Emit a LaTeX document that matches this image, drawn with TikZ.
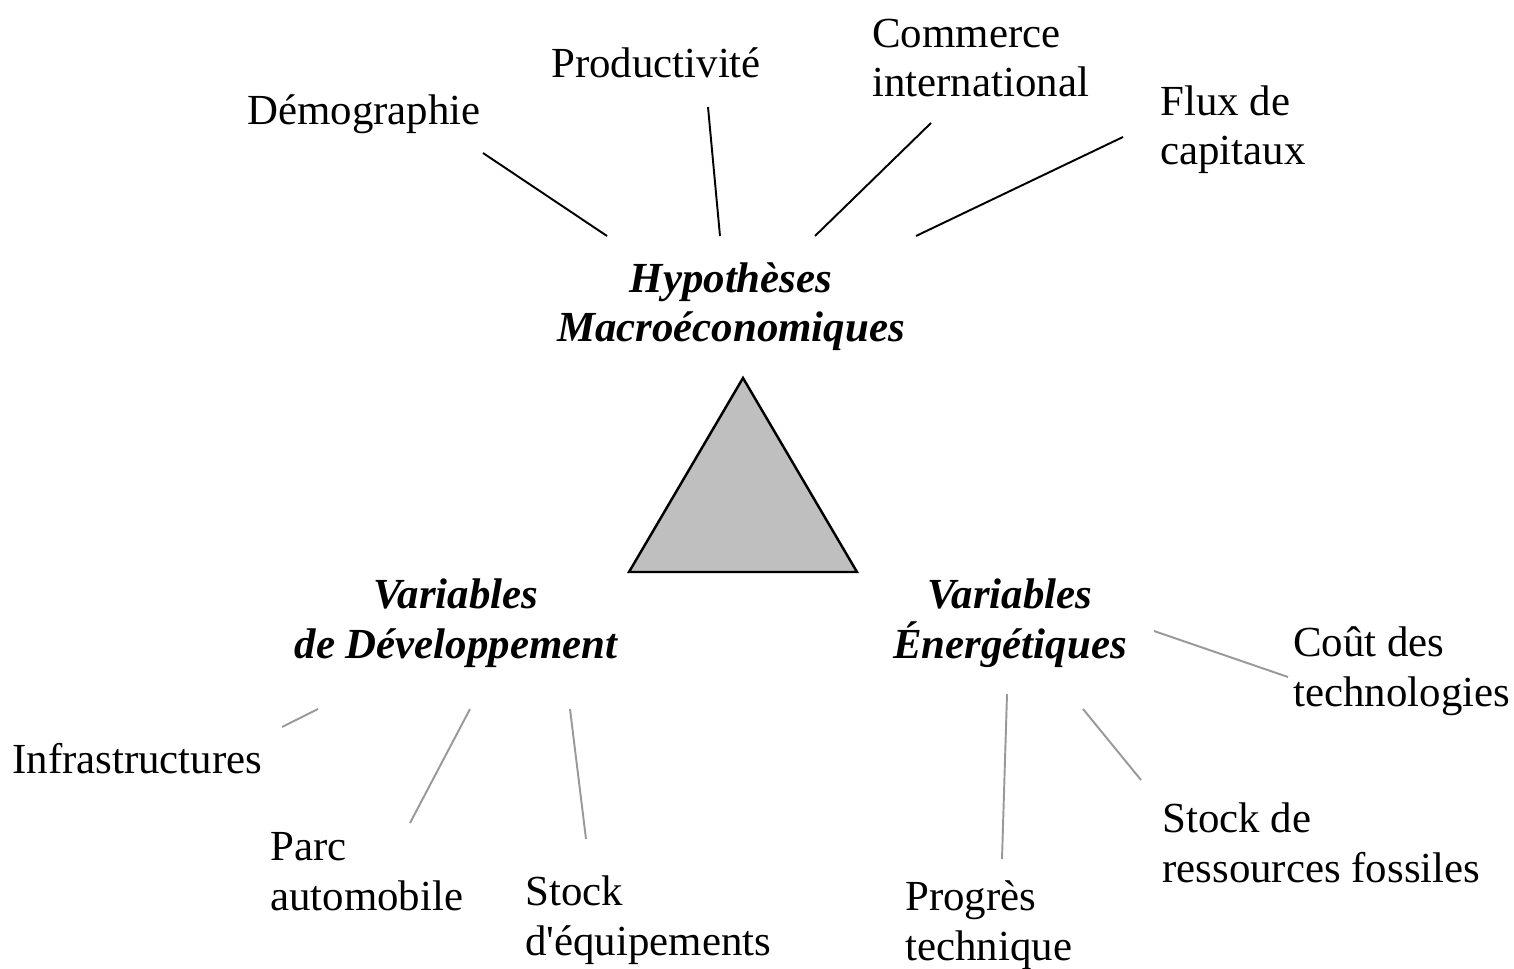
\documentclass[tikz,border=0pt]{standalone}
\usepackage{fontspec}
\setmainfont{Liberation Serif}
\begin{document}
\begin{tikzpicture}[x=0.02cm,y=-0.02cm,
  lbl/.style={inner sep=0pt, align=left, font=\fontsize{24.4}{28.45}\selectfont},
  head/.style={inner sep=0pt, align=center, font=\fontsize{24.4}{28.45}\selectfont\bfseries\itshape},
  topline/.style={draw=black, line width=1.1pt},
  lowline/.style={draw=black!40, line width=1.1pt}]
\useasboundingbox[fill=white] (0,0) rectangle (1514,969);

% central triangle
\filldraw[fill=black!25, draw=black, line width=1.4pt, line join=miter]
  (743,378) -- (857,572) -- (629,572) -- cycle;

% headings (anchored at the baseline of their last line)
\node[head, anchor=base] (hyp) at (731,342) {Hypothèses\\Macroéconomiques};
\node[head, anchor=base] (dev) at (456,658) {Variables\\de Développement};
\node[head, anchor=base] (ene) at (1010,658) {Variables\\Énergétiques};

% macroeconomic assumptions
\node[lbl, anchor=base west] (demo) at (247,125) {Démographie};
\node[lbl, anchor=base west] (prod) at (551,78) {Productivité};
\node[lbl, anchor=base west] (comm) at (872,97) {Commerce\\international};
\node[lbl, anchor=base west] (flux) at (1160,165) {Flux de\\capitaux};

% development variables
\node[lbl, anchor=base west] (infra) at (12,773) {Infrastructures};
\node[lbl, anchor=base west] (parc) at (270,910) {Parc\\automobile};
\node[lbl, anchor=base west] (equip) at (525,955) {Stock\\d\textquotesingle équipements};

% energy variables
\node[lbl, anchor=base west] (cout) at (1293,706) {Coût des\\technologies};
\node[lbl, anchor=base west] (ress) at (1162,882) {Stock de\\ressources fossiles};
\node[lbl, anchor=base west] (prog) at (905,960) {Progrès\\technique};

% connector end points
\coordinate (demoA) at (483,153); \coordinate (demoB) at (607,236);
\coordinate (prodA) at (708,107); \coordinate (prodB) at (720,236);
\coordinate (commA) at (931,123); \coordinate (commB) at (815,236);
\coordinate (fluxA) at (1123,137); \coordinate (fluxB) at (916,236);

\coordinate (infraA) at (318,709); \coordinate (infraB) at (282,727);
\coordinate (parcA) at (470,709); \coordinate (parcB) at (410,823);
\coordinate (equipA) at (570,709); \coordinate (equipB) at (586,839);

\coordinate (coutA) at (1154,631); \coordinate (coutB) at (1288,677);
\coordinate (progA) at (1007,694); \coordinate (progB) at (1002,859);
\coordinate (ressA) at (1083,709); \coordinate (ressB) at (1141,780);

% connectors
\draw[topline] (demoA) -- (demoB);
\draw[topline] (prodA) -- (prodB);
\draw[topline] (commA) -- (commB);
\draw[topline] (fluxA) -- (fluxB);

\draw[lowline] (infraA) -- (infraB);
\draw[lowline] (parcA) -- (parcB);
\draw[lowline] (equipA) -- (equipB);

\draw[lowline] (coutA) -- (coutB);
\draw[lowline] (progA) -- (progB);
\draw[lowline] (ressA) -- (ressB);
\end{tikzpicture}
\end{document}
